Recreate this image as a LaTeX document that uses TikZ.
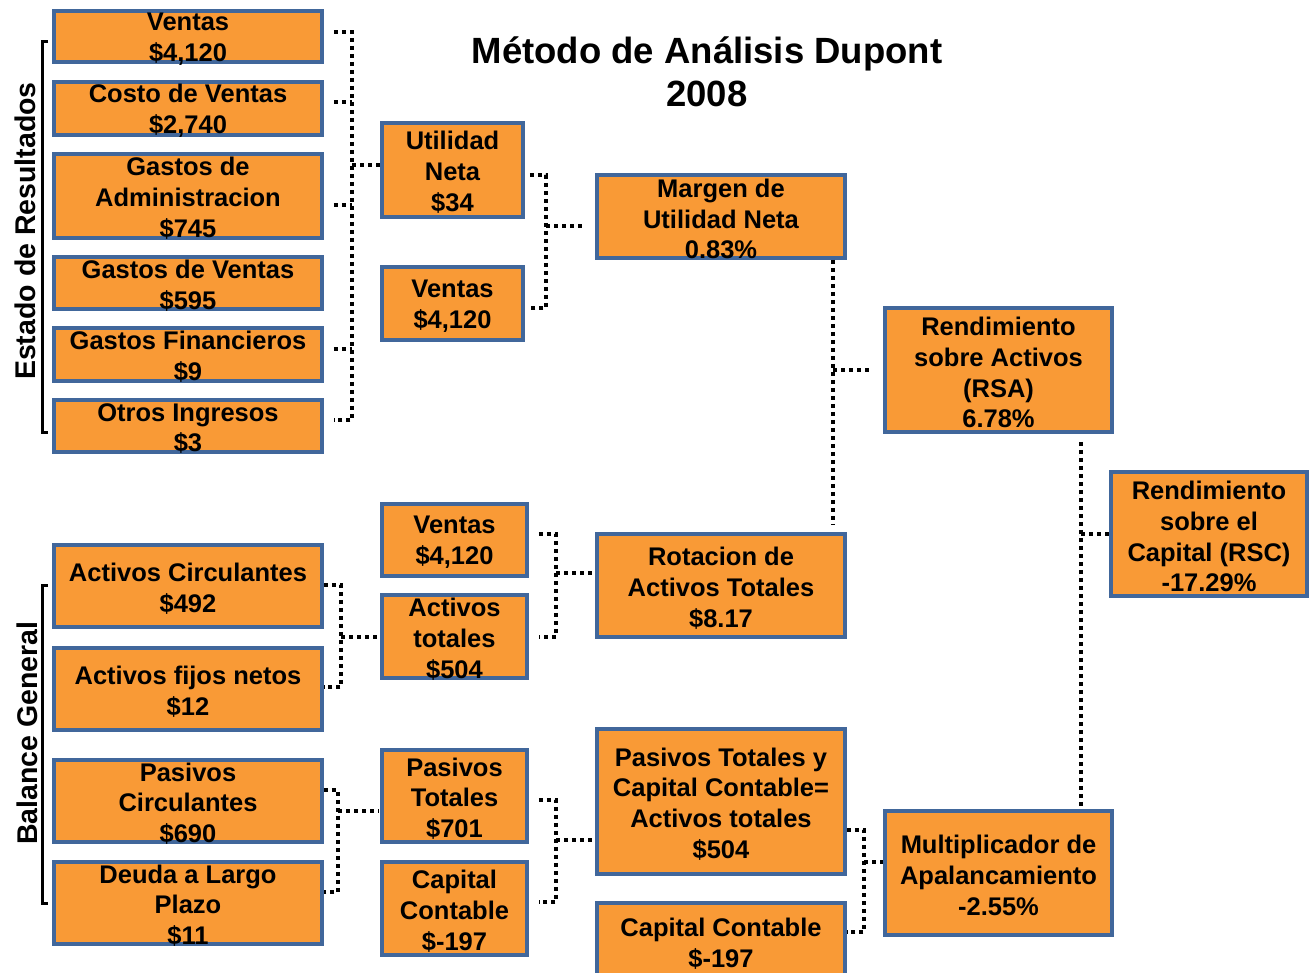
\documentclass[tikz,border=0pt]{standalone}
\usepackage{fontspec}
\setmainfont{Liberation Sans}
\usetikzlibrary{fit}
\definecolor{boxfill}{HTML}{F99A36}
\definecolor{boxline}{HTML}{41679B}
\tikzset{
  box/.style={draw=boxline, fill=boxfill, line width=3.5pt, inner sep=0pt},
  txt/.style={align=center, inner sep=0pt, yshift=-2.5pt, font=\bfseries\fontsize{25.5}{30.8}\selectfont},
  dl/.style={line width=4pt, dash pattern=on 4pt off 4pt},
  brk/.style={line width=3pt},
  side/.style={inner sep=0pt, font=\bfseries\fontsize{28.5}{30}\selectfont},
  ttl/.style={align=center, inner sep=0pt, font=\bfseries\fontsize{36.5}{43}\selectfont}
}
% box with its text centred: name, x1, y1, x2, y2, text
\newcommand\dbox[6]{%
  \node[box, fit={(#2,#3) (#4,#5)}] (#1) {};
  \node[txt] (#1-t) at (#1.center) {#6};}
\begin{document}
\begin{tikzpicture}[x=1pt,y=-1pt]
\useasboundingbox (0,0) rectangle (1309,972);
\clip (0,0) rectangle (1309,972);

\node[ttl] (title) at (707,72) {Método de Análisis Dupont\\2008};

% income statement items
\dbox{v1}{54}{11}{322}{62}{Ventas\\\$4,120}
\dbox{cv}{54}{82}{322}{135}{Costo de Ventas\\\$2,740}
\dbox{ga}{54}{154}{322}{238}{Gastos de\\Administracion\\\$745}
\dbox{gv}{54}{257}{322}{309}{Gastos de Ventas\\\$595}
\dbox{gf}{54}{328}{322}{381}{Gastos Financieros\\\$9}
\dbox{oi}{54}{400}{322}{452}{Otros Ingresos\\\$3}
% balance sheet items
\dbox{ac}{54}{545}{322}{627}{Activos Circulantes\\\$492}
\dbox{af}{54}{648}{322}{730}{Activos fijos netos\\\$12}
\dbox{pc}{54}{760}{322}{842}{Pasivos\\Circulantes\\\$690}
\dbox{dp}{54}{862}{322}{944}{Deuda a Largo\\Plazo\\\$11}
% second level
\dbox{un}{382}{123}{523}{217}{Utilidad\\Neta\\\$34}
\dbox{v2}{382}{267}{523}{340}{Ventas\\\$4,120}
\dbox{v3}{382}{504}{527}{576}{Ventas\\\$4,120}
\dbox{at}{382}{595}{527}{678}{Activos\\totales\\\$504}
\dbox{pt}{382}{750}{527}{842}{Pasivos\\Totales\\\$701}
\dbox{cc}{382}{862}{527}{955}{Capital\\Contable\\\$-197}
% third level
\dbox{mu}{597}{175}{845}{258}{Margen de\\Utilidad Neta\\0.83\%}
\dbox{ra}{597}{534}{845}{637}{Rotacion de\\Activos Totales\\\$8.17}
\dbox{ptc}{597}{729}{845}{874}{Pasivos Totales y\\Capital Contable=\\Activos totales\\\$504}
\dbox{cc2}{597}{903}{845}{980}{Capital Contable\\\$-197}
% ratios
\dbox{rsa}{885}{308}{1112}{432}{Rendimiento\\sobre Activos\\(RSA)\\6.78\%}
\dbox{mul}{885}{811}{1112}{935}{Multiplicador de\\Apalancamiento\\-2.55\%}
\dbox{rsc}{1111}{472}{1307}{596}{Rendimiento\\sobre el\\Capital (RSC)\\-17.29\%}

% side labels and brackets
\node[side, rotate=90] (er) at (25,231) {Estado de Resultados};
\node[side, rotate=90] (bg) at (27,733) {Balance General};
\draw[brk] (48,41) -- (42,41) -- (42,432) -- (48,432);
\draw[brk] (48,585) -- (42,585) -- (42,903) -- (48,903);

% bus lines
\coordinate (busA) at (352,0);
\coordinate (busB) at (546,0);
\coordinate (busC) at (556,0);
\coordinate (busD) at (341,0);
\coordinate (busE) at (338,0);
\coordinate (busF) at (864,0);
\coordinate (busG) at (833,0);
\coordinate (busH) at (1081,0);

% income statement -> Utilidad Neta
\coordinate (a1) at ([xshift=10pt,yshift=4.5pt]v1.east);
\coordinate (a2) at ([xshift=10pt,yshift=6.5pt]cv.east);
\coordinate (a3) at ([xshift=10pt,yshift=-9pt]ga.east);
\coordinate (a4) at ([xshift=10pt,yshift=5.5pt]gf.east);
\coordinate (a5) at ([xshift=10pt,yshift=6pt]oi.east);
\coordinate (a6) at ([yshift=5pt]un.west);
\draw[dl] (a1) -- (a1-|busA) -- (a5-|busA) -- (a5);
\draw[dl] (a2) -- (a2-|busA);
\draw[dl] (a3) -- (a3-|busA);
\draw[dl] (a4) -- (a4-|busA);
\draw[dl] (a6-|busA) -- (a6);

% Utilidad Neta, Ventas -> Margen
\coordinate (b1) at ([xshift=5pt,yshift=-5pt]un.east);
\coordinate (b2) at ([xshift=5pt,yshift=-4.5pt]v2.east);
\coordinate (b3) at ([xshift=-12pt,yshift=-9.5pt]mu.west);
\draw[dl] (b1) -- (b1-|busB) -- (b2-|busB) -- (b2);
\draw[dl] (b3-|busB) -- (b3);

% Ventas, Activos totales -> Rotacion
\coordinate (c1) at ([xshift=10pt,yshift=6pt]v3.east);
\coordinate (c2) at ([xshift=10pt]at.east);
\coordinate (c3) at ([xshift=-2pt,yshift=12.5pt]ra.west);
\draw[dl] (c1) -- (c1-|busC) -- (c2-|busC) -- (c2);
\draw[dl] (c3-|busC) -- (c3);

% Activos -> Activos totales
\coordinate (d1) at ([yshift=1pt]ac.east);
\coordinate (d2) at ([yshift=2pt]af.east);
\coordinate (d3) at ([xshift=-2pt]at.west);
\draw[dl] (d1) -- (d1-|busD) -- (d2-|busD) -- (d2);
\draw[dl] (d3-|busD) -- (d3);

% Pasivos -> Pasivos Totales
\coordinate (e1) at ([yshift=11pt]pc.east);
\coordinate (e2) at ([yshift=11pt]dp.east);
\coordinate (e3) at ([xshift=-2pt,yshift=-15pt]pt.west);
\draw[dl] (e1) -- (e1-|busE) -- (e2-|busE) -- (e2);
\draw[dl] (e3-|busE) -- (e3);

% Pasivos Totales, Capital -> Pasivos Totales y Capital Contable
\coordinate (f1) at ([xshift=10pt,yshift=-4pt]pt.east);
\coordinate (f2) at ([xshift=10pt,yshift=6.5pt]cc.east);
\coordinate (f3) at ([xshift=-2pt,yshift=-38.5pt]ptc.west);
\draw[dl] (f1) -- (f1-|busC) -- (f2-|busC) -- (f2);
\draw[dl] (f3-|busC) -- (f3);

% -> Multiplicador
\coordinate (g1) at ([yshift=-28.5pt]ptc.east);
\coordinate (g2) at ([yshift=9.5pt]cc2.east);
\coordinate (g3) at ([yshift=11pt]mul.west);
\draw[dl] (g1) -- (g1-|busF) -- (g2-|busF) -- (g2);
\draw[dl] (g3-|busF) -- (g3);

% Margen, Rotacion -> RSA
\draw[dl] (mu.south-|busG) -- ([yshift=7pt]ra.north-|busG);
\draw[dl] (rsa.west-|busG) -- ([xshift=-12pt]rsa.west);

% RSA, Multiplicador -> RSC
\draw[dl] ([yshift=-8pt]rsa.south-|busH) -- ([yshift=3pt]mul.north-|busH);
\draw[dl] (rsc.west-|busH) -- (rsc.west);
\end{tikzpicture}
\end{document}
